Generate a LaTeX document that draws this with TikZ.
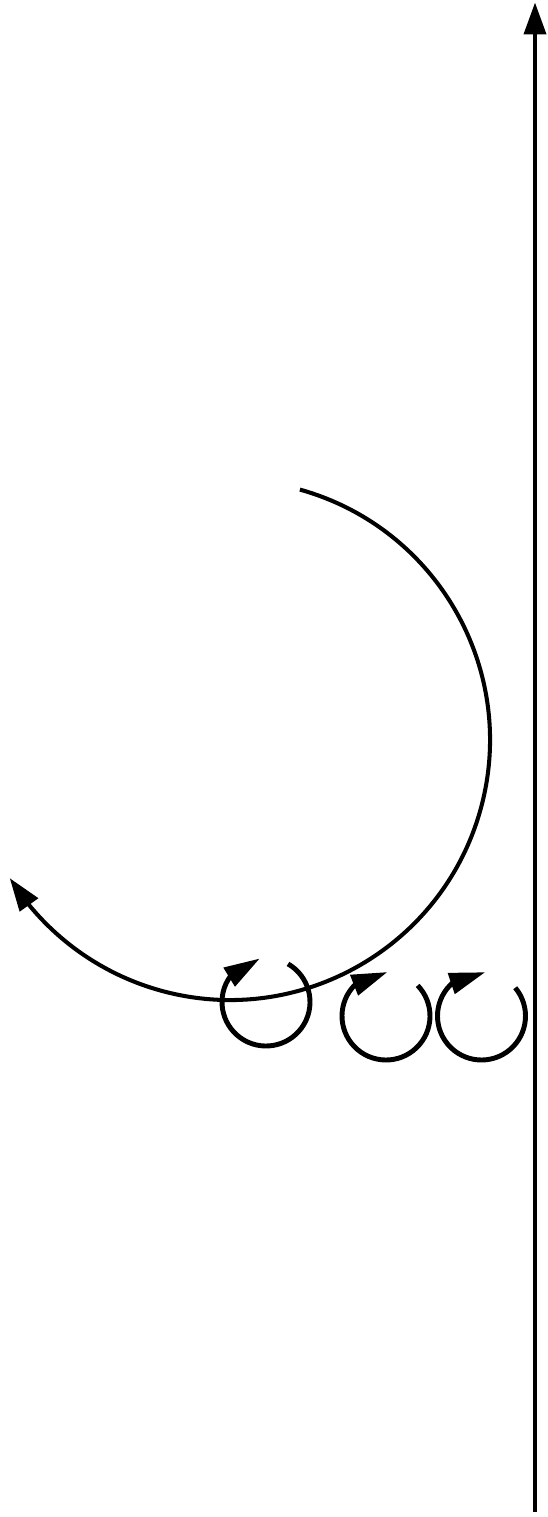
\documentclass[tikz,border=0pt]{standalone}
\usetikzlibrary{arrows.meta,bending}
\begin{document}
\begin{tikzpicture}[
  axis/.style={-{Triangle[length=0.64cm,width=0.44cm]}, line width=2.3pt},
  orbit/.style={-{Triangle[length=0.66cm,width=0.44cm]}, line width=2.3pt},
  spin/.style={-{Triangle[length=0.72cm,width=0.42cm]}, line width=2.8pt}
]
\useasboundingbox (0,0) rectangle (10.94,-30.34);
\coordinate (base) at (10.70,-30.24);
\coordinate (top) at (10.70,-0.05);
\draw[axis] (base) -- (top);
\coordinate (o) at (4.6,-14.8);
\draw[orbit] ([shift={(74.4:5.2)}]o) arc[start angle=74.4, end angle=-147.9, radius=5.2];
\foreach \i/\x/\y/\a/\b in {1/5.32/-20.04/60/-262, 2/7.72/-20.32/44/-272, 3/9.63/-20.32/40/-275}{
  \coordinate (s\i) at (\x,\y);
  \draw[spin] ([shift={(\a:0.88)}]s\i) arc[start angle=\a, end angle=\b, radius=0.88];
}
\end{tikzpicture}
\end{document}
